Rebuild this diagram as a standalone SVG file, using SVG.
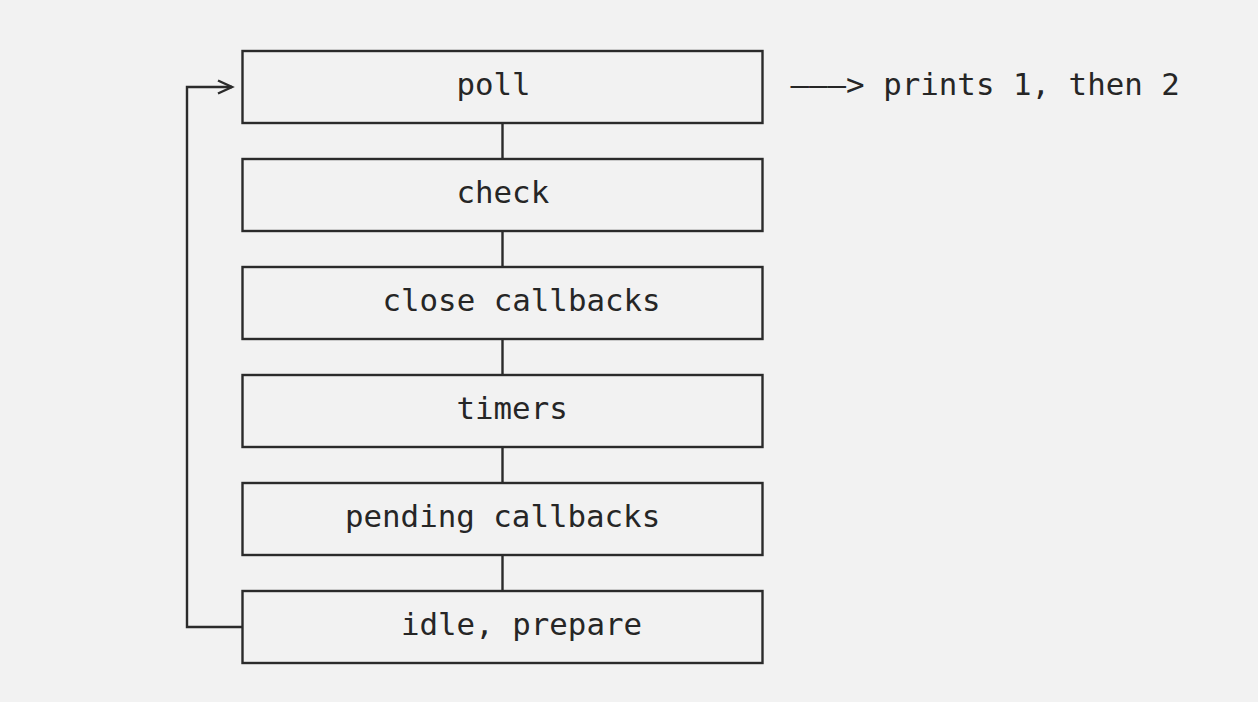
<svg xmlns="http://www.w3.org/2000/svg" width="1258" height="702" viewBox="0 0 1258 702">
<style>
.box{fill:none;stroke:#2b2b2b;stroke-width:2.4}
.lbl{font-family:"DejaVu Sans Mono","Liberation Mono",monospace;font-size:30.8px;fill:#262626}
.ln{fill:none;stroke:#2b2b2b;stroke-width:2.4}
</style>
<defs>
<marker id="chev" markerWidth="20" markerHeight="20" refX="16" refY="8" orient="auto" markerUnits="userSpaceOnUse">
<path d="M2,1.5 L16,8 L2,14.5" fill="none" stroke="#2b2b2b" stroke-width="2.4"/>
</marker>
</defs>
<rect width="1258" height="702" fill="#f2f2f2"/>
<g id="connectors">
<path class="ln" d="M502.5,123 V159 M502.5,231 V267 M502.5,339 V375 M502.5,447 V483 M502.5,555 V591"/>
<path class="ln" d="M242,627 H187 V87 H232" marker-end="url(#chev)"/>
</g>
<g id="poll"><rect class="box" x="242.5" y="51" width="520" height="72"/><text class="lbl" x="456.5" y="95">poll</text></g>
<g id="check"><rect class="box" x="242.5" y="159" width="520" height="72"/><text class="lbl" x="456.5" y="203">check</text></g>
<g id="close-callbacks"><rect class="box" x="242.5" y="267" width="520" height="72"/><text class="lbl" x="382.5" y="311">close callbacks</text></g>
<g id="timers"><rect class="box" x="242.5" y="375" width="520" height="72"/><text class="lbl" x="456.5" y="419">timers</text></g>
<g id="pending-callbacks"><rect class="box" x="242.5" y="483" width="520" height="72"/><text class="lbl" x="345" y="527">pending callbacks</text></g>
<g id="idle-prepare"><rect class="box" x="242.5" y="591" width="520" height="72"/><text class="lbl" x="401" y="635">idle, prepare</text></g>
<g id="note"><text class="lbl" x="790.5" y="95">–––&gt; prints 1, then 2</text></g>
</svg>
